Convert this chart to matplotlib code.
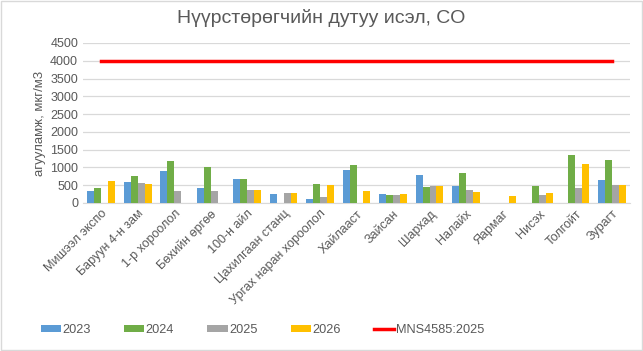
import matplotlib
matplotlib.use("Agg")
import matplotlib.pyplot as plt
import numpy as np

plt.rcParams["font.family"] = ["Liberation Sans", "DejaVu Sans"]

nan = np.nan
stations = [
    "Мишээл экспо", "Баруун 4-н зам", "1-р хороолол", "Бөхийн өргөө",
    "100-н айл", "Цахилгаан станц", "Ургах наран хороолол", "Хайлааст",
    "Зайсан", "Шархад", "Налайх", "Яармаг", "Нисэх", "Толгойт", "Зурагт",
]
v2023 = [333, 583, 889, 417, 667, 250, 111, 917, 250, 778, 472, nan, nan, nan, 639]
v2024 = [417, 750, 1167, 1000, 667, nan, 528, 1056, 222, 444, 833, nan, 472, 1361, 1222]
v2025 = [nan, 556, 333, 333, 361, 278, 167, nan, 222, 472, 361, nan, 222, 417, 500]
v2026 = [611, 528, nan, nan, 361, 278, 500, 333, 250, 472, 306, 194, 278, 1083, 500]
limit = 4000

series = [("2023", v2023, "#5B9BD5"), ("2024", v2024, "#70AD47"),
          ("2025", v2025, "#A5A5A5"), ("2026", v2026, "#FFC000")]

fig = plt.figure(figsize=(6.43, 3.51), dpi=100)
ax = fig.add_axes([0.129, 0.4217, 0.851, 0.4558])

x = np.arange(len(stations))
w = 0.19
handles = []
for i, (name, vals, col) in enumerate(series):
    handles.append(ax.bar(x + (i - 1.5) * w, vals, w, color=col, label=name, zorder=3))
line, = ax.plot(x, [limit] * len(x), color="#FF0000", lw=2.5, label="MNS4585:2025", zorder=4)
handles.append(line)

ax.set_xlim(-0.5, len(stations) - 0.5)
ax.set_ylim(0, 4500)
ax.set_yticks(range(0, 4501, 500))
ax.yaxis.grid(True, color="#D9D9D9", lw=0.9, zorder=0)
for s in ["top", "right", "left"]:
    ax.spines[s].set_visible(False)
ax.spines["bottom"].set_color("#D9D9D9")
ax.tick_params(length=0, colors="#595959", labelsize=9)
ax.set_xticks(x)
ax.set_xticklabels(stations, rotation=45, ha="right", rotation_mode="anchor")
ax.set_ylabel("агууламж, мкг/м3", color="#595959", fontsize=9.5, labelpad=3)

fig.suptitle("Нүүрстөрөгчийн дутуу исэл, CO", color="#595959", fontsize=14, y=0.975)

fig.legend(handles=handles, loc="lower center", ncol=5, frameon=False, fontsize=9.2,
           bbox_to_anchor=(0.408, 0.01), handlelength=1.6, handleheight=0.5,
           handletextpad=0.1, columnspacing=2.6, labelcolor="#595959")

fig.patches.append(matplotlib.patches.Rectangle((0.001, 0.002), 0.997, 0.995,
                   transform=fig.transFigure, fill=False, ec="#D9D9D9", lw=1))

fig.savefig("out.png", dpi=100)
